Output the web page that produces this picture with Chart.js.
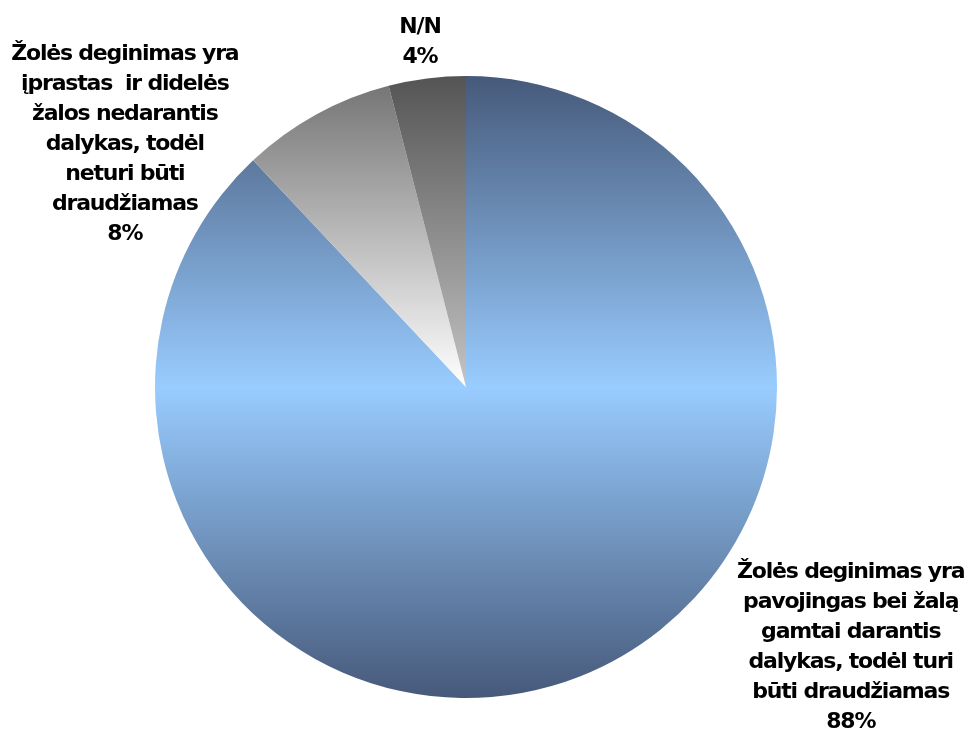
<!DOCTYPE html>
<html>
<head>
<meta charset="utf-8">
<script src="https://cdn.jsdelivr.net/npm/chart.js@4/dist/chart.umd.min.js"></script>
<style>
  html, body { margin: 0; padding: 0; background: #fff; }
  #wrap { width: 968px; height: 731px; position: relative; }
</style>
</head>
<body>
<div id="wrap"><canvas id="myChart"></canvas></div>
<script>
// chart data
var categories = [
  'Žolės deginimas yra pavojingas bei žalą gamtai darantis dalykas, todėl turi būti draudžiamas',
  'Žolės deginimas yra įprastas  ir didelės žalos nedarantis dalykas, todėl neturi būti draudžiamas',
  'N/N'
]
var values = [88, 8, 4]
var percent_labels = ['88%', '8%', '4%']

// label lines as shown in the picture
var label_lines = [
  ['Žolės deginimas yra', 'pavojingas bei žalą', 'gamtai darantis', 'dalykas, todėl turi', 'būti draudžiamas'],
  ['Žolės deginimas yra', 'įprastas  ir didelės', 'žalos nedarantis', 'dalykas, todėl', 'neturi būti', 'draudžiamas'],
  ['N/N']
]
// label anchor offsets (relative to pie center, in radius units)
var label_pos = [[1.237, 0.595], [-1.097, -1.07], [-0.148, -1.158]]

// vertical gradient for each slice
function slice_gradient(context) {
  var chart = context.chart
  var area = chart.chartArea
  if (!area) return '#99ccff'
  var c = chart.ctx
  var cy = (area.top + area.bottom) / 2
  var r = Math.min(area.right - area.left, area.bottom - area.top) / 2
  var i = context.dataIndex
  var g
  if (i == 0) {
    g = c.createLinearGradient(0, cy - r, 0, cy + r)
    g.addColorStop(0, '#46597a')
    g.addColorStop(0.5, '#99ccff')
    g.addColorStop(1, '#46597a')
  } else if (i == 1) {
    g = c.createLinearGradient(0, cy - r * 0.96, 0, cy)
    g.addColorStop(0, '#777777')
    g.addColorStop(1, '#ffffff')
  } else {
    g = c.createLinearGradient(0, cy - r, 0, cy)
    g.addColorStop(0, '#545454')
    g.addColorStop(1, '#c4c4c4')
  }
  return g
}

var labelPlugin = {
  id: 'outsideLabels',
  afterDraw: function(chart) {
    var area = chart.chartArea
    var cx = (area.left + area.right) / 2
    var cy = (area.top + area.bottom) / 2
    var r = Math.min(area.right - area.left, area.bottom - area.top) / 2
    var c = chart.ctx
    c.save()
    c.fillStyle = '#000'
    c.font = 'bold 22px "DejaVu Sans", Verdana, sans-serif'
    c.letterSpacing = '-1.2px'
    c.textAlign = 'center'
    c.textBaseline = 'middle'
    var lh = 30
    for (let i = 0; i < label_lines.length; i++) {
      var lines = label_lines[i].concat([percent_labels[i]])
      var x = cx + label_pos[i][0] * r
      var y = cy + label_pos[i][1] * r
      for (let j = 0; j < lines.length; j++) {
        c.fillText(lines[j], x, y + j * lh)
      }
    }
    c.restore()
  }
}

const ctx = document.getElementById('myChart')

new Chart(ctx, {
  type: 'pie',
  data: {
    labels: categories,
    datasets: [{
      data: values,
      backgroundColor: slice_gradient,
      borderWidth: 0
    }]
  },
  options: {
    responsive: true,
    maintainAspectRatio: false,
    animation: false,
    layout: {
      padding: { top: 76, bottom: 33, left: 155, right: 191 }
    },
    plugins: {
      legend: { display: false },
      tooltip: { enabled: false }
    }
  },
  plugins: [labelPlugin]
})
</script>
</body>
</html>
